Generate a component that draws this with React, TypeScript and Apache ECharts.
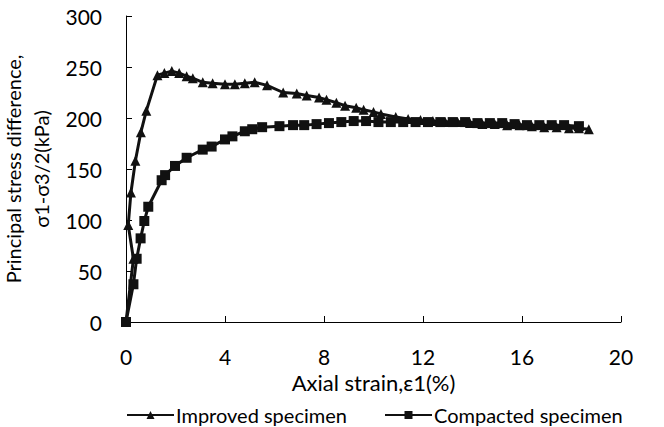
import React, { useEffect, useRef } from "react";
import * as echarts from "echarts";

const improvedStrain = [0, 0.3, 0.09, 0.2, 0.38, 0.6, 0.82, 1.27, 1.55, 1.85, 2.15, 2.45, 2.7, 3.1, 3.5, 4.0, 4.4, 4.8, 5.2, 5.7, 6.35, 6.9, 7.3, 7.8, 8.1, 8.5, 8.85, 9.3, 9.6, 10.0, 10.3, 10.9, 11.4, 11.9, 12.4, 12.9, 13.4, 13.9, 14.4, 14.9, 15.4, 15.9, 16.4, 16.9, 17.4, 17.9, 18.3, 18.7];
const improvedStress = [0, 62, 95, 127, 158, 186, 207, 242, 244, 246, 244, 241, 239, 235, 234, 233, 233, 234, 235, 232, 225, 224, 222, 220, 218, 215, 212, 210, 208, 206, 204, 201, 199, 198, 197, 196, 196, 195, 194, 194, 193, 193, 192, 191, 191, 190, 190, 189];

const compactedStrain = [0, 0.3, 0.43, 0.59, 0.74, 0.9, 1.44, 1.58, 1.98, 2.45, 3.1, 3.46, 4.0, 4.3, 4.8, 5.1, 5.5, 6.2, 6.75, 7.2, 7.7, 8.2, 8.7, 9.2, 9.7, 10.2, 10.7, 11.2, 11.7, 12.2, 12.7, 13.2, 13.7, 14.2, 14.7, 15.2, 15.7, 16.2, 16.7, 17.2, 17.7, 18.3];
const compactedStress = [0, 37, 62, 82, 99, 113, 139, 144, 153, 161, 169, 172, 179, 182, 187, 189, 191, 192, 193, 193, 194, 195, 196, 197, 197, 196, 196, 196, 196, 196, 196, 196, 196, 195, 195, 195, 194, 193, 193, 193, 193, 192];

const xTicks = [0, 4, 8, 12, 16, 20];
const yTicks = [0, 50, 100, 150, 200, 250, 300];

const FONT = "Lato";

export default function App() {
  const ref = useRef<HTMLDivElement>(null);
  useEffect(() => {
    if (!ref.current) return;
    const chart = echarts.init(ref.current, undefined, { renderer: "svg" });
    const improved = improvedStrain.map((x, i) => [x, improvedStress[i]]);
    const compacted = compactedStrain.map((x, i) => [x, compactedStress[i]]);
    chart.setOption({
      animation: false,
      backgroundColor: "#ffffff",
      textStyle: { fontFamily: FONT, color: "#000" },
      grid: { left: 126, right: 43, top: 16, bottom: 105, containLabel: false, outerBoundsMode: "none" },
      xAxis: {
        type: "value",
        min: xTicks[0],
        max: xTicks[xTicks.length - 1],
        interval: 4,
        name: "Axial strain,ε1(%)",
        nameLocation: "middle",
        nameGap: 49,
        nameTextStyle: { fontFamily: FONT, fontSize: 22, color: "#000" },
        axisLine: { show: true, lineStyle: { color: "#000", width: 1 } },
        axisTick: { show: true, inside: true, length: 6, lineStyle: { color: "#000" } },
        axisLabel: { fontFamily: FONT, fontSize: 21, color: "#000", margin: 24 },
        splitLine: { show: false },
      },
      yAxis: {
        type: "value",
        min: yTicks[0],
        max: yTicks[yTicks.length - 1],
        interval: 50,
        name: "Principal stress difference,\nσ1-σ3/2(kPa)",
        nameLocation: "middle",
        nameRotate: 90,
        nameGap: 62,
        nameTextStyle: { fontFamily: FONT, fontSize: 20, color: "#000", lineHeight: 28 },
        axisLine: { show: true, lineStyle: { color: "#000", width: 1 } },
        axisTick: { show: true, inside: true, length: 6, lineStyle: { color: "#000" } },
        axisLabel: { fontFamily: FONT, fontSize: 21, color: "#000", margin: 24 },
        splitLine: { show: false },
      },
      legend: [
        {
          data: ["Improved specimen"],
          left: 121,
          top: 400,
          itemWidth: 47,
          itemHeight: 10,
          itemGap: 4,
          textStyle: { fontFamily: FONT, fontSize: 20, color: "#000", padding: [0, 0, 0, -3] },
        },
        {
          data: ["Compacted specimen"],
          left: 379,
          top: 400,
          itemWidth: 47,
          itemHeight: 10,
          itemGap: 4,
          textStyle: { fontFamily: FONT, fontSize: 20, color: "#000", padding: [0, 0, 0, -3] },
        },
      ],
      series: [
        {
          name: "Improved specimen",
          type: "line",
          data: improved,
          symbol: "triangle",
          symbolSize: 10,
          lineStyle: { color: "#111", width: 3 },
          itemStyle: { color: "#111" },
        },
        {
          name: "Compacted specimen",
          type: "line",
          data: compacted,
          symbol: "rect",
          symbolSize: 10,
          lineStyle: { color: "#111", width: 3 },
          itemStyle: { color: "#111" },
        },
      ],
    });
    return () => chart.dispose();
  }, []);
  return <div ref={ref} style={{ width: 664, height: 427, position: "absolute", left: 0, top: 0 }} />;
}
